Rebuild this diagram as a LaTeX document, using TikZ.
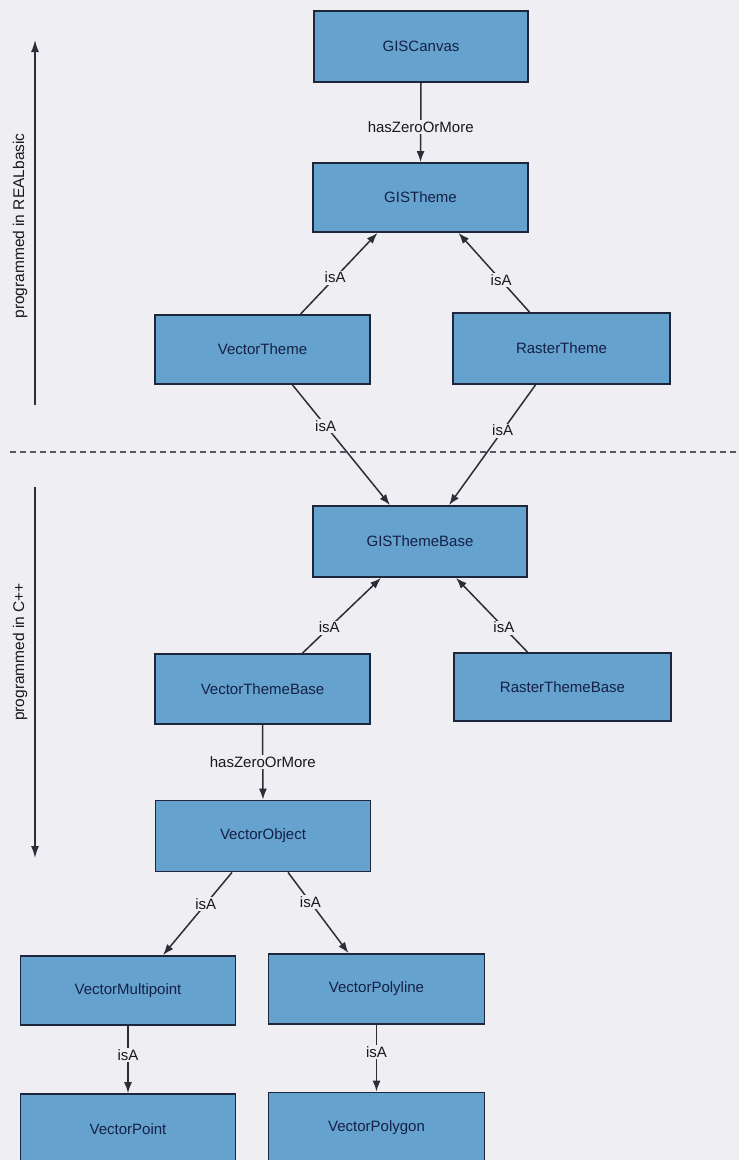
\documentclass[tikz,border=0pt]{standalone}
\usepackage{fontspec}
\setmainfont{Liberation Sans}
\usetikzlibrary{arrows.meta}

\definecolor{pagebg}{RGB}{238,238,243}
\definecolor{boxfill}{RGB}{102,162,206}
\definecolor{boxline}{RGB}{30,38,60}
\definecolor{boxtext}{RGB}{20,32,70}
\definecolor{wire}{RGB}{45,45,55}

\tikzset{
  classbox/.style={draw=boxline, line width=1.8pt, fill=boxfill,
    minimum width=215pt, minimum height=70pt, inner sep=0pt,
    text=boxtext, font=\fontsize{15}{15}\selectfont},
  rel/.style={draw=wire, line width=1.5pt, -{Latex[length=11pt,width=8pt]}},
  rellabel/.style={fill=pagebg, inner sep=1.5pt, text=black!90,
    font=\fontsize{15}{15}\selectfont},
  sidearrow/.style={draw=wire, line width=1.4pt, -{Latex[length=12pt,width=8pt]}},
  sidelabel/.style={rotate=90, text=black!90, font=\fontsize{15.5}{15.5}\selectfont},
}

\begin{document}
\begin{tikzpicture}[x=1pt, y=-1pt]
  \fill[pagebg] (0,0) rectangle (739,1160);
  \useasboundingbox (0,0) rectangle (739,1160);

  % class boxes
  \node[classbox, minimum width=214pt, minimum height=71pt] (gc)  at (421,46.5)   {GISCanvas};
  \node[classbox, minimum height=69pt] (gt)  at (420.5,197.5) {GISTheme};
  \node[classbox, minimum height=69pt] (vt)  at (262.5,349.5) {VectorTheme};
  \node[classbox, minimum width=217pt, minimum height=71pt] (rt)  at (561.5,348.5) {RasterTheme};
  \node[classbox, minimum width=214pt, minimum height=71pt] (gtb) at (420,541.5)   {GISThemeBase};
  \node[classbox] (vtb) at (262.5,689)   {VectorThemeBase};
  \node[classbox, minimum width=217pt, minimum height=68pt] (rtb) at (562.5,687)   {RasterThemeBase};
  \node[classbox, minimum height=71pt] (vo)  at (263,836)     {VectorObject};
  \node[classbox, minimum height=69pt] (vm)  at (128,990.5)   {VectorMultipoint};
  \node[classbox, minimum width=216pt] (vp)  at (376.5,989)   {VectorPolyline};
  \node[classbox] (vpt) at (128,1129)    {VectorPoint};
  \node[classbox, minimum width=216pt] (vpg) at (376.5,1127.5) {VectorPolygon};

  % relations
  \draw[rel] (gc.south) -- node[rellabel, pos=0.56] {hasZeroOrMore} (gt.north);
  \draw[rel] ([xshift=38pt]vt.north) -- node[rellabel, pos=0.45] {isA} ([xshift=-43pt]gt.south);
  \draw[rel] ([xshift=-32pt]rt.north) -- node[rellabel, pos=0.4] {isA} ([xshift=38pt]gt.south);
  \draw[rel] ([xshift=30pt]vt.south) -- node[rellabel, pos=0.34] {isA} ([xshift=-30pt]gtb.north);
  \draw[rel] ([xshift=-26pt]rt.south) -- node[rellabel, pos=0.38] {isA} ([xshift=29pt]gtb.north);
  \draw[rel] ([xshift=40pt]vtb.north) -- node[rellabel, pos=0.34] {isA} ([xshift=-39pt]gtb.south);
  \draw[rel] ([xshift=-35pt]rtb.north) -- node[rellabel, pos=0.33] {isA} ([xshift=36pt]gtb.south);
  \draw[rel] (vtb.south) -- node[rellabel, pos=0.5] {hasZeroOrMore} (vo.north);
  \draw[rel] ([xshift=-31pt]vo.south) -- node[rellabel, pos=0.38] {isA} ([xshift=35pt]vm.north);
  \draw[rel] ([xshift=25pt]vo.south) -- node[rellabel, pos=0.37] {isA} ([xshift=-28pt]vp.north);
  \draw[rel] (vm.south) -- node[rellabel, pos=0.43] {isA} (vpt.north);
  \draw[rel] (vp.south) -- node[rellabel, pos=0.41] {isA} (vpg.north);

  % boundary between the two implementation layers
  \coordinate (sepL) at (10,452);
  \coordinate (sepR) at (739,452);
  \draw[wire!80, line width=1.2pt, dash pattern=on 6pt off 4pt] (sepL) -- (sepR);

  % side arrows naming the implementation language
  \coordinate (rbBot) at (35,405);
  \coordinate (rbTop) at (35,40);
  \draw[sidearrow] (rbBot) -- (rbTop);
  \node[sidelabel] (rbText) at (20,226) {programmed in REALbasic};

  \coordinate (cpTop) at (35,487);
  \coordinate (cpBot) at (35,858);
  \draw[sidearrow] (cpTop) -- (cpBot);
  \node[sidelabel] (cpText) at (20,652) {programmed in C++};
\end{tikzpicture}
\end{document}
